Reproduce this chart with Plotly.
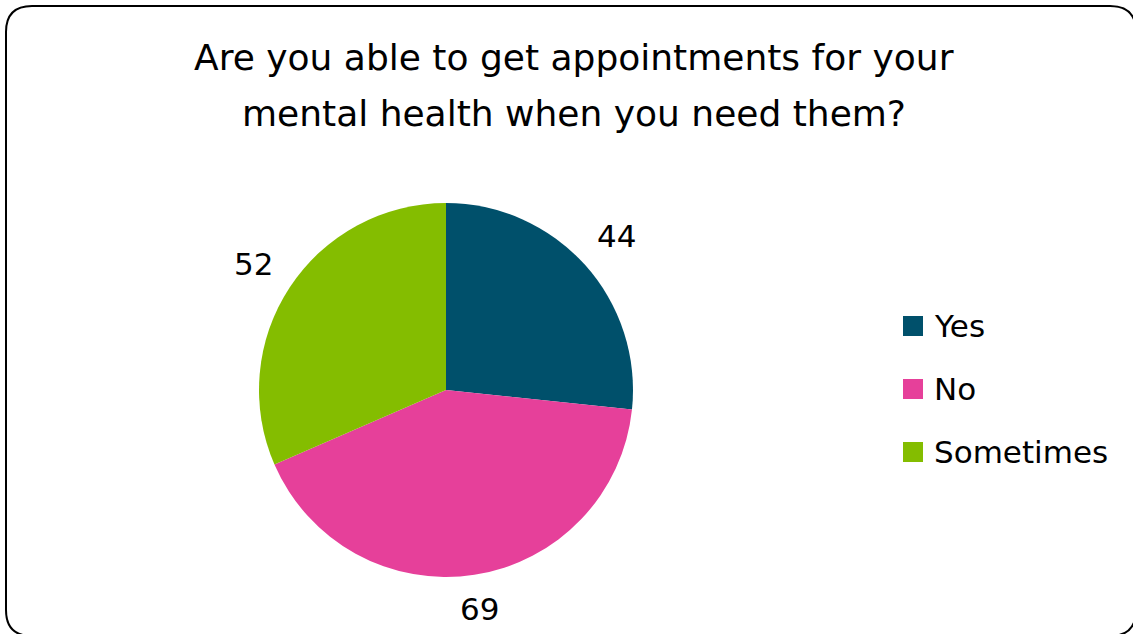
import numpy as np
import plotly.graph_objects as go

# Survey responses
labels = ["Yes", "No", "Sometimes"]
counts = [44, 69, 52]
colors = ["#00506B", "#E6409A", "#84BD00"]

title_lines = ["Are you able to get appointments for your",
               "mental health when you need them?"]

W, H = 1133, 634
FONT = "DejaVu Sans"

# Pie geometry in pixels
cx, cy, R = 446, 390, 187

fig = go.Figure(go.Pie(
    labels=labels,
    values=counts,
    marker=dict(colors=colors, line=dict(width=0)),
    sort=False,
    direction="clockwise",
    rotation=0,
    textinfo="none",
    hoverinfo="label+value",
    showlegend=False,
    domain=dict(x=[(cx - R) / W, (cx + R) / W],
                y=[1 - (cy + R) / H, 1 - (cy - R) / H]),
))

annotations = []

# Value labels placed outside each slice, at the slice's mid-angle,
# pushed out so the label box clears the rim by a fixed gap
total = sum(counts)
cum = np.cumsum([0] + counts)
gap, half_w, half_h = 18, 21, 14
for i, v in enumerate(counts):
    mid = (cum[i] + cum[i + 1]) / 2 / total * 2 * np.pi
    ux, uy = np.sin(mid), -np.cos(mid)
    dist = R + gap + abs(ux) * half_w + abs(uy) * half_h
    px = cx + dist * ux
    py = cy + dist * uy
    annotations.append(dict(
        x=px / W, y=1 - py / H, xref="paper", yref="paper",
        text=str(v), showarrow=False, xanchor="center", yanchor="middle",
        font=dict(family=FONT, size=31, color="#000000"),
    ))

# Title, two centred lines
for j, line in enumerate(title_lines):
    annotations.append(dict(
        x=574 / W, y=1 - (57 + 56 * j) / H, xref="paper", yref="paper",
        text=line, showarrow=False, xanchor="center", yanchor="middle",
        font=dict(family=FONT, size=36, color="#000000"),
    ))

shapes = []

# Legend: coloured squares with labels
leg_x, leg_y0, leg_dy, sq = 903, 326, 63, 20
for i, (lab, col) in enumerate(zip(labels, colors)):
    yy = leg_y0 + leg_dy * i
    shapes.append(dict(
        type="rect", xref="paper", yref="paper",
        x0=leg_x / W, x1=(leg_x + sq) / W,
        y0=1 - (yy + sq / 2) / H, y1=1 - (yy - sq / 2) / H,
        fillcolor=col, line=dict(width=0),
    ))
    annotations.append(dict(
        x=(leg_x + sq + 9) / W, y=1 - yy / H, xref="paper", yref="paper",
        text=lab, showarrow=False, xanchor="left", yanchor="middle",
        font=dict(family=FONT, size=31, color="#000000"),
    ))

# Rounded frame around the chart area
def fx(p):
    return p / W

def fy(p):
    return 1 - p / H

x0, y0, x1, y1, r = 6, 6, 1136, 636, 26
path = (f"M {fx(x0 + r)},{fy(y0)} L {fx(x1 - r)},{fy(y0)} "
        f"Q {fx(x1)},{fy(y0)} {fx(x1)},{fy(y0 + r)} "
        f"L {fx(x1)},{fy(y1 - r)} Q {fx(x1)},{fy(y1)} {fx(x1 - r)},{fy(y1)} "
        f"L {fx(x0 + r)},{fy(y1)} Q {fx(x0)},{fy(y1)} {fx(x0)},{fy(y1 - r)} "
        f"L {fx(x0)},{fy(y0 + r)} Q {fx(x0)},{fy(y0)} {fx(x0 + r)},{fy(y0)} Z")
shapes.append(dict(type="path", path=path, xref="paper", yref="paper",
                   line=dict(color="#000000", width=2), fillcolor="rgba(0,0,0,0)"))

fig.update_layout(
    width=W, height=H,
    margin=dict(l=0, r=0, t=0, b=0),
    paper_bgcolor="#FFFFFF",
    plot_bgcolor="#FFFFFF",
    annotations=annotations,
    shapes=shapes,
)

fig.write_html("out.html", config={"displayModeBar": False})
